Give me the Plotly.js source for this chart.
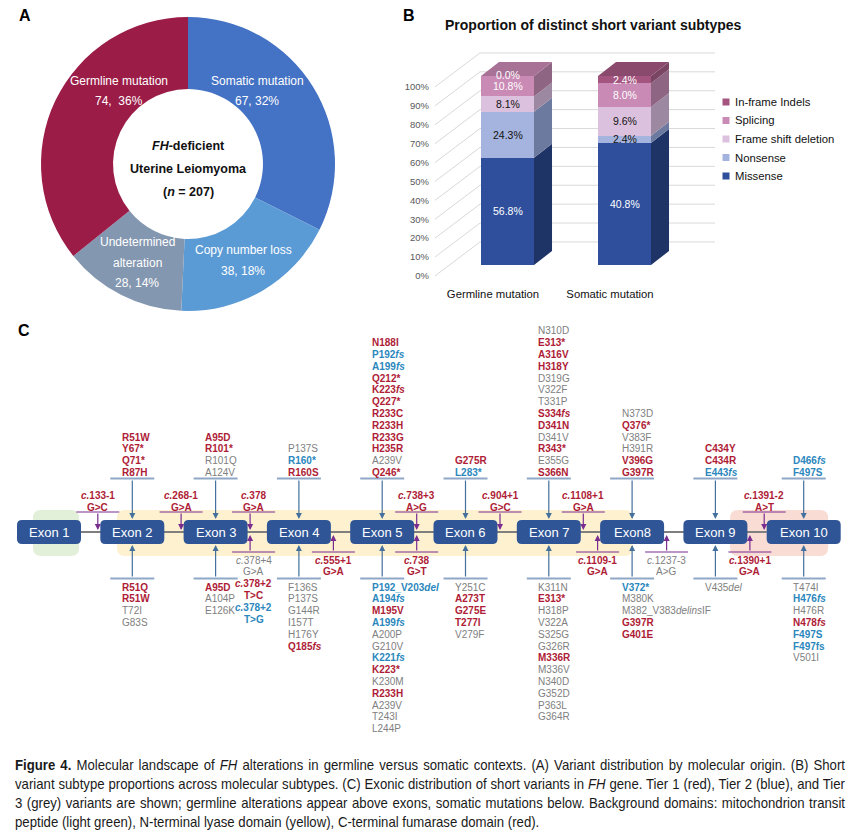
<!DOCTYPE html>
<html><head><meta charset="utf-8">
<script src="https://cdn.plot.ly/plotly-3.0.1.min.js"></script>
<style>
html,body{margin:0;padding:0;background:#fff;}
#chart{position:absolute;left:0;top:0;width:850px;height:831px;}
#caption{position:absolute;left:15px;top:755.5px;width:830px;font-family:'Liberation Sans Narrow','Liberation Sans',Arial,sans-serif;font-size:14.5px;line-height:19px;color:#1a1a1a;transform-origin:0 0;}
#caption div{text-align:justify;text-align-last:justify;white-space:nowrap;}
#caption div.last{text-align-last:left;}
</style></head><body>
<div id="chart"></div>
<div id="caption"></div>
<script>
// ---------------- DATA ----------------
// Panel A: variant distribution by molecular origin
const originLabels = ['Somatic mutation', 'Copy number loss', 'Undetermined alteration', 'Germline mutation'];
const originCounts = [67, 38, 28, 74];
const originColors = ['#4472c4', '#5b9bd5', '#8497b0', '#9b1c47'];

// Panel B: short variant subtype proportions (%)
const originGroups = ['Germline mutation', 'Somatic mutation'];
const subtypeNames = ['Missense', 'Nonsense', 'Frame shift deletion', 'Splicing', 'In-frame Indels'];
const germlineShare = [56.8, 24.3, 8.1, 10.8, 0.0];
const somaticShare = [40.8, 2.4, 9.6, 8.0, 2.4];
const percentTicks = [0, 10, 20, 30, 40, 50, 60, 70, 80, 90, 100];
const subtypeFront = ['#2f4f9d', '#a5b4de', '#dcc1de', '#c98ab5', '#a4557f'];
const subtypeSide  = ['#1f3466', '#6d7a9f', '#9c88a0', '#8f6584', '#7a4463'];
const subtypeTop   = ['#27427f', '#8995bb', '#bca4bf', '#a87297', '#8a4a6e'];
const subtypeLabelColor = ['#ffffff', '#111111', '#111111', '#ffffff', '#ffffff'];

// Panel C: exons and variants
const exonNames = ['Exon 1', 'Exon 2', 'Exon 3', 'Exon 4', 'Exon 5', 'Exon 6', 'Exon 7', 'Exon8', 'Exon 9', 'Exon 10'];
const germlineNames = [
  [],
  ['R51W', 'Y67*', 'Q71*', 'R87H'],
  ['A95D', 'R101*', 'R101Q', 'A124V'],
  ['P137S', 'R160*', 'R160S'],
  ['N188I', 'P192<i>fs</i>', 'A199<i>fs</i>', 'Q212*', 'K223<i>fs</i>', 'Q227*', 'R233C', 'R233H', 'R233G', 'H235R', 'A239V', 'Q246*'],
  ['G275R', 'L283*'],
  ['N310D', 'E313*', 'A316V', 'H318Y', 'D319G', 'V322F', 'T331P', 'S334<i>fs</i>', 'D341N', 'D341V', 'R343*', 'E355G', 'S366N'],
  ['N373D', 'Q376*', 'V383F', 'H391R', 'V396G', 'G397R'],
  ['C434Y', 'C434R', 'E443<i>fs</i>'],
  ['D466<i>fs</i>', 'F497S']
];
const germlineTiers = [
  [], [1, 1, 1, 1], [1, 1, 3, 3], [3, 2, 1],
  [1, 2, 2, 1, 1, 1, 1, 1, 1, 1, 3, 1],
  [1, 2],
  [3, 1, 1, 1, 3, 3, 3, 1, 1, 3, 1, 3, 1],
  [3, 1, 3, 3, 1, 1],
  [1, 1, 2],
  [2, 2]
];
const somaticNames = [
  [],
  ['R51Q', 'R51W', 'T72I', 'G83S'],
  ['A95D', 'A104P', 'E126K'],
  ['F136S', 'P137S', 'G144R', 'I157T', 'H176Y', 'Q185<i>fs</i>'],
  ['P192_V203<i>del</i>', 'A194<i>fs</i>', 'M195V', 'A199<i>fs</i>', 'A200P', 'G210V', 'K221<i>fs</i>', 'K223*', 'K230M', 'R233H', 'A239V', 'T243I', 'L244P'],
  ['Y251C', 'A273T', 'G275E', 'T277I', 'V279F'],
  ['K311N', 'E313*', 'H318P', 'V322A', 'S325G', 'G326R', 'M336R', 'M336V', 'N340D', 'G352D', 'P363L', 'G364R'],
  ['V372*', 'M380K', 'M382_V383<i>delins</i>IF', 'G397R', 'G401E'],
  ['V435<i>del</i>'],
  ['T474I', 'H476<i>fs</i>', 'H476R', 'N478<i>fs</i>', 'F497S', 'F497fs', 'V501I']
];
const somaticTiers = [
  [], [1, 1, 3, 3], [1, 3, 3], [3, 3, 3, 3, 3, 1],
  [2, 2, 1, 2, 3, 3, 2, 1, 3, 1, 3, 3, 3],
  [3, 1, 1, 1, 3],
  [3, 1, 3, 3, 3, 3, 1, 3, 3, 3, 3, 3],
  [2, 3, 3, 1, 1],
  [3],
  [3, 2, 3, 1, 2, 2, 3]
];
// splice-site variants (germline above, somatic below), anchored at an exon edge
const spliceTopNames   = ['c.133-1', 'c.268-1', 'c.378', 'c.738+3', 'c.904+1', 'c.1108+1', 'c.1391-2'];
const spliceTopChanges = ['G>C', 'G>A', 'G>A', 'A>G', 'G>C', 'G>A', 'A>T'];
const spliceTopTiers   = [1, 1, 1, 1, 1, 1, 1];
const spliceTopExon    = [1, 2, 2, 4, 5, 6, 9];
const spliceTopSide    = ['L', 'L', 'R', 'R', 'R', 'R', 'L'];
const spliceBotNames   = ['c.378+4', 'c.378+2', 'c.378+2', 'c.555+1', 'c.738', 'c.1109-1', 'c.1237-3', 'c.1390+1'];
const spliceBotChanges = ['G>A', 'T>C', 'T>G', 'G>A', 'G>T', 'G>A', 'A>G', 'G>A'];
const spliceBotTiers   = [3, 1, 2, 1, 1, 1, 3, 1];
const spliceBotExon    = [2, 2, 2, 3, 4, 7, 7, 8];
const spliceBotSide    = ['R', 'R', 'R', 'R', 'R', 'L', 'R', 'R'];
// protein domains (exon index + fraction of exon)
const domainNames  = ['Mitochondrion transit peptide', 'N-terminal lyase domain', 'C-terminal fumarase domain'];
const domainStart  = [[0, 0.25], [1, 0.26], [8, 0.73]];
const domainEnd    = [[0, 0.97], [7, 0.51], [9, 0.83]];
const domainColors = ['#e2efd9', '#fdf1cf', '#f9ddd5'];

const captionLines = [
  '<b>Figure 4.</b> Molecular landscape of <i>FH</i> alterations in germline versus somatic contexts. (A) Variant distribution by molecular origin. (B) Short',
  'variant subtype proportions across molecular subtypes. (C) Exonic distribution of short variants in <i>FH</i> gene. Tier 1 (red), Tier 2 (blue), and Tier',
  '3 (grey) variants are shown; germline alterations appear above exons, somatic mutations below. Background domains: mitochondrion transit',
  'peptide (light green), N-terminal lyase domain (yellow), C-terminal fumarase domain (red).'
];

// ---------------- HELPERS ----------------
const W = 850, H = 831;
const px = x => x / W;
const py = y => 1 - y / H;
const FONT = 'Liberation Sans, Arial, sans-serif';
const tierColor = {1: '#ae1c36', 2: '#2b87bd', 3: '#808080'};

const traces = [];
const shapes = [];
const annotations = [];

function note(x, y, text, opts) {
  opts = opts || {};
  annotations.push(Object.assign({
    x: px(x), y: py(y), xref: 'paper', yref: 'paper', text: text, showarrow: false,
    xanchor: 'center', yanchor: 'middle',
    font: {family: FONT, size: 12, color: '#000'}
  }, opts));
}
function arrow(tipX, tipY, tailX, tailY, color, width) {
  annotations.push({
    x: px(tipX), y: py(tipY), xref: 'paper', yref: 'paper', text: '', showarrow: true,
    ax: tailX - tipX, ay: tailY - tipY, axref: 'pixel', ayref: 'pixel',
    arrowhead: 2, arrowsize: 1, arrowwidth: width, arrowcolor: color, standoff: 0, startstandoff: 0
  });
}
function hline(x0, x1, y, color, width) {
  shapes.push({type: 'line', xref: 'paper', yref: 'paper', x0: px(x0), x1: px(x1), y0: py(y), y1: py(y),
    line: {color: color, width: width}});
}
function rr(x0, y0, x1, y1, r) {
  const X = v => px(v).toFixed(5), Y = v => py(v).toFixed(5);
  return `M${X(x0 + r)},${Y(y0)} L${X(x1 - r)},${Y(y0)} Q${X(x1)},${Y(y0)} ${X(x1)},${Y(y0 + r)} ` +
    `L${X(x1)},${Y(y1 - r)} Q${X(x1)},${Y(y1)} ${X(x1 - r)},${Y(y1)} L${X(x0 + r)},${Y(y1)} ` +
    `Q${X(x0)},${Y(y1)} ${X(x0)},${Y(y1 - r)} L${X(x0)},${Y(y0 + r)} Q${X(x0)},${Y(y0)} ${X(x0 + r)},${Y(y0)} Z`;
}

// ---------------- PANEL A ----------------
note(25, 15, '<b>A</b>', {font: {family: FONT, size: 16, color: '#000'}});
traces.push({
  type: 'pie', values: originCounts, labels: originLabels, sort: false, direction: 'clockwise', rotation: 0,
  hole: 0.51, textinfo: 'none', marker: {colors: originColors, line: {width: 0}},
  domain: {x: [px(41), px(335)], y: [py(311), py(17)]}, showlegend: false
});
const originTotal = originCounts.reduce((a, b) => a + b, 0);
const pieLabelAnchor = [[257, 91], [243, 260.5], [137, 262.5], [119, 91]];
originLabels.forEach((lab, i) => {
  const words = lab.length > 18 ? lab.split(' ') : [lab];
  const pct = Math.round(originCounts[i] / originTotal * 100);
  const sep = i === 3 ? ',\u00a0\u00a0' : ', ';
  const lines = words.concat([originCounts[i] + sep + pct + '%']);
  const [cx, cy] = pieLabelAnchor[i];
  lines.forEach((t, j) => {
    note(cx, cy + (j - (lines.length - 1) / 2) * 20.5, t, {font: {family: FONT, size: 12, color: '#ffffff'}});
  });
});
note(188, 146, '<b><i>FH</i>-deficient</b>', {font: {family: FONT, size: 12.5, color: '#111'}});
note(188, 169, '<b>Uterine Leiomyoma</b>', {font: {family: FONT, size: 12.5, color: '#111'}});
note(188, 192, '<b>(<i>n</i> = ' + originTotal + ')</b>', {font: {family: FONT, size: 12.5, color: '#111'}});

// ---------------- PANEL B ----------------
note(409, 15, '<b>B</b>', {font: {family: FONT, size: 16, color: '#000'}});
note(593, 25, '<b>Proportion of distinct short variant subtypes</b>', {font: {family: FONT, size: 14, color: '#111'}});

const barX = [0, 1];
const barW = 0.453, depthX = 0.154, depthY = 7.4;
const frontOffset = 5.8, backOffset = 12.2;
const wallLeftFront = -0.62, wallLeftBack = -0.235, wallRight = 1.774;

function normalize(arr) { const s = arr.reduce((a, b) => a + b, 0); return arr.map(v => v / s * 100); }
const groupShares = [germlineShare, somaticShare];
const groupNorm = groupShares.map(normalize);

// back walls / grid
percentTicks.forEach(v => {
  shapes.push({type: 'line', xref: 'x', yref: 'y', x0: wallLeftFront, y0: v - frontOffset, x1: wallLeftBack, y1: v + backOffset,
    line: {color: '#d9d9d9', width: 1}, layer: 'below'});
  shapes.push({type: 'line', xref: 'x', yref: 'y', x0: wallLeftBack, y0: v + backOffset, x1: wallRight, y1: v + backOffset,
    line: {color: '#d9d9d9', width: 1}, layer: 'below'});
});

subtypeNames.forEach((nm, k) => {
  traces.push({
    type: 'bar', x: barX, y: groupNorm.map(g => g[k]), width: barW, name: nm,
    marker: {color: subtypeFront[k], line: {width: 0}}, xaxis: 'x', yaxis: 'y',
    customdata: groupShares.map(g => g[k]), hovertemplate: nm + ': %{customdata}%<extra></extra>'
  });
});
groupNorm.forEach((vals, g) => {
  let cum = 0, topK = 0;
  const xr = barX[g] + barW / 2, xl = barX[g] - barW / 2;
  vals.forEach((v, k) => {
    if (v > 0) {
      traces.push({type: 'scatter', mode: 'lines', xaxis: 'x', yaxis: 'y', fill: 'toself', hoverinfo: 'skip',
        x: [xr, xr + depthX, xr + depthX, xr, xr], y: [cum, cum + depthY, cum + v + depthY, cum + v, cum],
        line: {width: 0}, fillcolor: subtypeSide[k], showlegend: false});
      topK = k;
    }
    annotations.push({x: barX[g], y: cum + v / 2 + (v === 0 ? 0.6 : 0), xref: 'x', yref: 'y', showarrow: false,
      text: groupShares[g][k].toFixed(1) + '%', font: {family: FONT, size: 10.5, color: subtypeLabelColor[k]}});
    cum += v;
  });
  traces.push({type: 'scatter', mode: 'lines', xaxis: 'x', yaxis: 'y', fill: 'toself', hoverinfo: 'skip',
    x: [xl, xl + depthX, xr + depthX, xr, xl], y: [cum, cum + depthY, cum + depthY, cum, cum],
    line: {width: 0}, fillcolor: subtypeTop[topK], showlegend: false});
});
// legend
subtypeNames.slice().reverse().forEach((nm, i) => {
  const k = subtypeNames.length - 1 - i;
  const y = 102 + i * 18.5;
  shapes.push({type: 'rect', xref: 'paper', yref: 'paper', x0: px(722.5), x1: px(729.5), y0: py(y + 3.5), y1: py(y - 3.5),
    fillcolor: subtypeFront[k], line: {width: 0}});
  note(733, y, nm, {xanchor: 'left', font: {family: FONT, size: 11.3, color: '#111'}});
});

// ---------------- PANEL C ----------------
note(24, 331, '<b>C</b>', {font: {family: FONT, size: 16, color: '#000'}});
const EX_LEFT0 = 17, EX_STEP = 83.3, EX_W = 64, EX_W_LAST = 74, EX_TOP = 520, EX_BOT = 544, AXIS_Y = 532;
const exLeft = i => EX_LEFT0 + i * EX_STEP;
const exWidth = i => (i === exonNames.length - 1 ? EX_W_LAST : EX_W);
const exRight = i => exLeft(i) + exWidth(i);
const exCenter = i => exLeft(i) + exWidth(i) / 2;

domainNames.forEach((nm, d) => {
  const x0 = exLeft(domainStart[d][0]) + domainStart[d][1] * exWidth(domainStart[d][0]);
  const x1 = exLeft(domainEnd[d][0]) + domainEnd[d][1] * exWidth(domainEnd[d][0]);
  shapes.push({type: 'path', xref: 'paper', yref: 'paper', path: rr(x0, 510, x1, 556, 8),
    fillcolor: domainColors[d], line: {width: 0}, layer: 'below'});
});
hline(exRight(0), exLeft(exonNames.length - 1), AXIS_Y, '#7f7f7f', 2);
exonNames.forEach((nm, i) => {
  shapes.push({type: 'path', xref: 'paper', yref: 'paper', path: rr(exLeft(i), EX_TOP, exRight(i), EX_BOT, 5),
    fillcolor: '#2f5597', line: {width: 0}});
  note(exCenter(i), AXIS_Y, nm, {font: {family: FONT, size: 13, color: '#ffffff'}});
});

const LINE_H = 11.8;
function variantText(name, tier) { return tier === 3 ? name : '<b>' + name + '</b>'; }
function spliceText(name, tier) {
  const t = name.replace(/^c\./, '<i>c.</i>');
  return tier === 3 ? t : '<b>' + t + '</b>';
}
// germline lists (above)
germlineNames.forEach((list, i) => {
  if (!list.length) return;
  const cx = exCenter(i);
  hline(cx - 22, cx + 22, 478.5, '#8fa8c8', 2);
  arrow(cx, EX_TOP - 1, cx, 479, '#44709d', 1.2);
  list.forEach((nm, j) => {
    const t = germlineTiers[i][j];
    const y = 472.5 - (list.length - 1 - j) * LINE_H;
    note(cx - 12.5, y, variantText(nm, t), {xanchor: 'left', font: {family: FONT, size: 10, color: tierColor[t]}});
  });
});
// somatic lists (below)
somaticNames.forEach((list, i) => {
  if (!list.length) return;
  const cx = exCenter(i);
  hline(cx - 22, cx + 22, 578.5, '#8fa8c8', 2);
  arrow(cx, EX_BOT + 1, cx, 578, '#44709d', 1.2);
  list.forEach((nm, j) => {
    const t = somaticTiers[i][j];
    const y = 587 + j * LINE_H;
    note(cx - 12.5, y, variantText(nm, t), {xanchor: 'left', font: {family: FONT, size: 10, color: tierColor[t]}});
  });
});
// splice sites
function siteX(ex, side) { return side === 'L' ? exLeft(ex) - 2.5 : exRight(ex) + 2.5; }
const siteLabelShift = {'2R': 3.5};
spliceTopNames.forEach((nm, s) => {
  const key = spliceTopExon[s] + spliceTopSide[s];
  const x = siteX(spliceTopExon[s], spliceTopSide[s]);
  const tx = x + (siteLabelShift[key] || 0);
  const c = tierColor[spliceTopTiers[s]];
  hline(tx - 21.5, tx + 21.5, 512, '#7b2c8f', 1.2);
  arrow(x, AXIS_Y - 2, x, 512, '#7b2c8f', 1.2);
  note(tx, 495, spliceText(nm, spliceTopTiers[s]), {font: {family: FONT, size: 10, color: c}});
  note(tx, 507, spliceText(spliceTopChanges[s], spliceTopTiers[s]), {font: {family: FONT, size: 10, color: c}});
});
const siteLines = {};
spliceBotNames.forEach((nm, s) => {
  const key = spliceBotExon[s] + spliceBotSide[s];
  const x = siteX(spliceBotExon[s], spliceBotSide[s]);
  const tx = x + (siteLabelShift[key] || 0);
  if (!(key in siteLines)) {
    siteLines[key] = 0;
    hline(tx - 21.5, tx + 21.5, 552, '#7b2c8f', 1.2);
    arrow(x, AXIS_Y + 3, x, 552, '#7b2c8f', 1.2);
  }
  const n = siteLines[key];
  const c = tierColor[spliceBotTiers[s]];
  note(tx, 560 + (2 * n) * LINE_H, spliceText(nm, spliceBotTiers[s]), {font: {family: FONT, size: 10, color: c}});
  note(tx, 560 + (2 * n + 1) * LINE_H, spliceText(spliceBotChanges[s], spliceBotTiers[s]), {font: {family: FONT, size: 10, color: c}});
  siteLines[key] = n + 1;
});

// ---------------- LAYOUT ----------------
const layout = {
  width: W, height: H, margin: {l: 0, r: 0, t: 0, b: 0}, showlegend: false,
  paper_bgcolor: '#ffffff', plot_bgcolor: 'rgba(0,0,0,0)', font: {family: FONT},
  barmode: 'stack',
  xaxis: {domain: [px(430), px(720)], range: [(430 - 507.5) / 117, (720 - 507.5) / 117],
    showgrid: false, zeroline: false, showline: false, ticks: '', ticklabelstandoff: 3,
    tickvals: barX.map(x => x - 0.124), ticktext: originGroups,
    tickfont: {family: FONT, size: 11.3, color: '#111'}, fixedrange: true},
  yaxis: {domain: [py(283), py(40)], range: [(265 - 283) / 1.89, (265 - 40) / 1.89],
    showgrid: false, zeroline: false, showline: false, ticks: '',
    tickvals: percentTicks.map(v => v - frontOffset), ticktext: percentTicks.map(v => v + '%'),
    tickfont: {family: FONT, size: 9.5, color: '#595959'}, fixedrange: true},
  shapes: shapes, annotations: annotations
};
Plotly.newPlot('chart', traces, layout, {displayModeBar: false, staticPlot: true});

// caption: justified lines, horizontally condensed to fit the 830 px text block
const cap = document.getElementById('caption');
cap.innerHTML = captionLines.map((l, i) => '<div' + (i === captionLines.length - 1 ? ' class="last"' : '') + '>' + l + '</div>').join('');
let maxW = 0;
captionLines.forEach(l => {
  const s = document.createElement('span');
  s.style.whiteSpace = 'nowrap';
  s.innerHTML = l;
  cap.appendChild(s);
  maxW = Math.max(maxW, s.getBoundingClientRect().width);
  s.remove();
});
const capScale = Math.min(1, 830 / (maxW + 6));
cap.style.width = (830 / capScale) + 'px';
cap.style.transform = 'scaleX(' + capScale + ')';
</script></body></html>
